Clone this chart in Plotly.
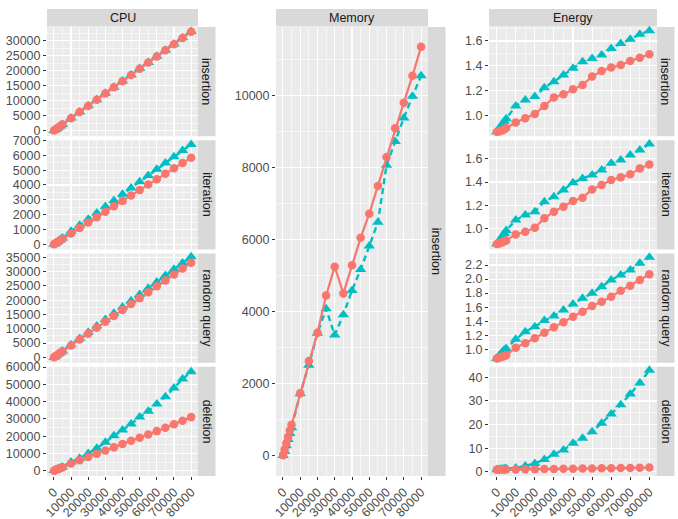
import plotly.graph_objects as go

# ---------------- data ----------------
x_sizes = [100, 1000, 2000, 3000, 4000, 5000, 10000, 15000, 20000, 25000, 30000,
           35000, 40000, 45000, 50000, 55000, 60000, 65000, 70000, 75000, 80000]

cpu_insertion_a = [40, 420, 830, 1240, 1650, 2060, 4150, 6200, 8250, 10300, 12400,
                   14450, 16500, 18550, 20650, 22700, 24750, 26800, 28850, 30900, 33000]
cpu_insertion_b = [45, 430, 850, 1270, 1680, 2100, 4200, 6250, 8300, 10350, 12450,
                   14500, 16550, 18600, 20700, 22750, 24800, 26850, 28900, 30950, 33050]

cpu_iteration_a = [8, 75, 150, 220, 295, 370, 740, 1100, 1470, 1830, 2200,
                   2570, 2930, 3300, 3660, 4030, 4390, 4760, 5120, 5480, 5840]
cpu_iteration_b = [9, 90, 180, 265, 350, 440, 880, 1290, 1700, 2120, 2560,
                   2960, 3380, 3800, 4220, 4640, 5060, 5480, 5900, 6320, 6730]

cpu_random_a = [40, 415, 830, 1240, 1660, 2070, 4140, 6210, 8280, 10350, 12420,
                14490, 16560, 18630, 20700, 22770, 24840, 26910, 28980, 31050, 33100]
cpu_random_b = [45, 440, 880, 1320, 1760, 2200, 4400, 6600, 8800, 11000, 13200,
                15400, 17600, 19800, 22000, 24200, 26400, 28600, 30800, 33000, 35200]

cpu_deletion_a = [40, 400, 800, 1200, 1600, 2000, 4100, 6000, 7900, 9800, 11700,
                  13500, 15400, 17300, 19100, 21000, 22900, 24900, 26900, 28900, 31000]
cpu_deletion_b = [45, 420, 850, 1300, 1750, 2200, 5000, 7150, 10000, 12950, 16400,
                  20250, 23550, 27000, 31000, 34400, 38600, 42800, 47900, 53000, 57300]

mem_insertion_a = [15, 170, 340, 515, 700, 860, 1737, 2632, 3418, 4450, 5246,
                   4507, 5290, 6050, 6720, 7490, 8290, 9090, 9800, 10545, 11350]
mem_insertion_b = [10, 120, 280, 450, 620, 780, 1720, 2513, 3400, 4083, 3352,
                   3917, 4590, 5170, 5820, 6480, 8065, 8725, 9375, 9975, 10545]

en_insertion_a = [0.87, 0.872, 0.876, 0.882, 0.89, 0.90, 0.944, 0.979, 1.013, 1.078, 1.145,
                  1.172, 1.212, 1.247, 1.314, 1.359, 1.386, 1.407, 1.439, 1.466, 1.493]
en_insertion_b = [0.87, 0.89, 0.91, 0.93, 0.955, 0.975, 1.078, 1.126, 1.153, 1.225, 1.273,
                  1.327, 1.38, 1.434, 1.46, 1.488, 1.54, 1.58, 1.613, 1.654, 1.683]

en_iteration_a = [0.87, 0.873, 0.878, 0.885, 0.893, 0.90, 0.951, 0.974, 1.009, 1.089, 1.146,
                  1.189, 1.237, 1.266, 1.337, 1.374, 1.417, 1.44, 1.466, 1.517, 1.551]
en_iteration_b = [0.87, 0.89, 0.91, 0.935, 0.96, 0.985, 1.074, 1.117, 1.146, 1.231, 1.274,
                  1.331, 1.394, 1.431, 1.46, 1.503, 1.56, 1.589, 1.631, 1.674, 1.726]

en_random_a = [0.87, 0.875, 0.885, 0.895, 0.905, 0.915, 1.023, 1.085, 1.156, 1.237, 1.313,
               1.384, 1.464, 1.536, 1.616, 1.678, 1.749, 1.835, 1.906, 1.987, 2.067]
en_random_b = [0.87, 0.9, 0.93, 0.96, 0.99, 1.01, 1.142, 1.251, 1.322, 1.408, 1.474,
               1.559, 1.645, 1.725, 1.797, 1.892, 1.987, 2.058, 2.129, 2.224, 2.309]

en_deletion_a = [0.9, 0.9, 0.92, 0.93, 0.95, 0.96, 1.0, 1.05, 1.1, 1.15, 1.2,
                 1.25, 1.3, 1.35, 1.4, 1.45, 1.5, 1.55, 1.6, 1.7, 1.8]
en_deletion_b = [0.9, 1.0, 1.1, 1.2, 1.3, 1.4, 1.6, 2.4, 3.5, 5.2, 7.4,
                 9.2, 12.1, 14.2, 17.0, 20.6, 24.5, 28.4, 33.0, 37.6, 43.0]

col_labels = ["CPU", "Memory", "Energy"]
row_labels = ["insertion", "iteration", "random query", "deletion"]
x_ticks = [0, 10000, 20000, 30000, 40000, 50000, 60000, 70000, 80000]

# ---------------- layout geometry (pixels) ----------------
W, H = 678, 519
RED = "#F8766D"
CYAN = "#00BFC4"
FONT = "Liberation Sans, Arial, sans-serif"

def px_x(a, b):
    return [a / W, b / W]

def px_y(top, bottom):
    return [1 - bottom / H, 1 - top / H]

rows_px = [(27, 136.25), (140.25, 249.5), (253.5, 362.75), (366.75, 476)]
cols_px = {"CPU": (47, 198), "Memory": (276, 428), "Energy": (489, 657)}
strip_w = 17.5
top_strip = (9, 26.5)

panels = [
    # col, row index (None = full height), a, b, yrange, dtick, minor, fmt
    ("CPU", 0, cpu_insertion_a, cpu_insertion_b, [-1850, 34570], 5000, 2500, "d"),
    ("CPU", 1, cpu_iteration_a, cpu_iteration_b, [-340, 7010], 1000, 500, "d"),
    ("CPU", 2, cpu_random_a, cpu_random_b, [-1900, 36330], 5000, 2500, "d"),
    ("CPU", 3, cpu_deletion_a, cpu_deletion_b, [-3070, 60150], 10000, 5000, "d"),
    ("Memory", None, mem_insertion_a, mem_insertion_b, [-560, 11900], 2000, 1000, "d"),
    ("Energy", 0, en_insertion_a, en_insertion_b, [0.834, 1.7125], 0.2, 0.1, ".1f"),
    ("Energy", 1, en_iteration_a, en_iteration_b, [0.822, 1.758], 0.2, 0.1, ".1f"),
    ("Energy", 2, en_random_a, en_random_b, [0.808, 2.364], 0.2, 0.1, ".1f"),
    ("Energy", 3, en_deletion_a, en_deletion_b, [-1.8, 44.5], 10, 5, "d"),
]

fig = go.Figure()
layout = {}
shapes = []
annotations = []

tickfont = dict(family=FONT, size=12.5, color="#4D4D4D")
stripfont = dict(family=FONT, size=12.5, color="#1A1A1A")

for i, (col, r, a, b, yr, dt, mn, fmt) in enumerate(panels):
    n = i + 1
    xs = "" if n == 1 else str(n)
    xa, ya = "x" + xs, "y" + xs
    if r is None:
        top, bottom = rows_px[0][0], rows_px[-1][1]
    else:
        top, bottom = rows_px[r]
    left, right = cols_px[col]
    is_bottom = (r is None) or (r == 3)

    fig.add_trace(go.Scatter(
        x=x_sizes, y=b, mode="lines+markers", xaxis=xa, yaxis=ya,
        line=dict(color=CYAN, width=2.4, dash="6px,4px"),
        marker=dict(symbol="triangle-up", size=10, color=CYAN),
        showlegend=False, hoverinfo="skip", cliponaxis=False))
    fig.add_trace(go.Scatter(
        x=x_sizes, y=a, mode="lines+markers", xaxis=xa, yaxis=ya,
        line=dict(color=RED, width=2.2),
        marker=dict(symbol="circle", size=8.5, color=RED),
        showlegend=False, hoverinfo="skip", cliponaxis=False))

    layout["xaxis" + xs] = dict(
        domain=px_x(left, right), anchor=ya, range=[-4000, 84000],
        tickmode="array", tickvals=x_ticks, ticktext=[str(v) for v in x_ticks],
        showticklabels=is_bottom, ticks="outside" if is_bottom else "",
        ticklen=3, tickwidth=1, tickcolor="#333333", tickangle=-45,
        tickfont=tickfont, showgrid=True, gridcolor="white", gridwidth=1.1,
        zeroline=False, showline=False, automargin=False, fixedrange=True,
        minor=dict(tick0=0, dtick=5000, showgrid=True, gridcolor="white",
                   gridwidth=0.55, ticks=""))
    layout["yaxis" + xs] = dict(
        domain=px_y(top, bottom), anchor=xa, range=yr,
        tickmode="linear", tick0=0, dtick=dt, tickformat=fmt,
        ticks="outside", ticklen=3, tickwidth=1, tickcolor="#333333",
        tickfont=tickfont, showgrid=True, gridcolor="white", gridwidth=1.1,
        zeroline=False, showline=False, automargin=False, fixedrange=True,
        minor=dict(tick0=0, dtick=mn, showgrid=True, gridcolor="white",
                   gridwidth=0.55, ticks=""))

    # right strip
    shapes.append(dict(type="rect", xref="paper", yref="paper",
                       x0=right / W, x1=(right + strip_w) / W,
                       y0=1 - bottom / H, y1=1 - top / H,
                       fillcolor="#D9D9D9", line=dict(width=0), layer="below"))
    label = row_labels[0] if r is None else row_labels[r]
    annotations.append(dict(text=label, xref="paper", yref="paper",
                            x=(right + strip_w / 2) / W, y=1 - (top + bottom) / 2 / H,
                            textangle=90, showarrow=False, font=stripfont,
                            xanchor="center", yanchor="middle"))

# top strips
for col in col_labels:
    left, right = cols_px[col]
    shapes.append(dict(type="rect", xref="paper", yref="paper",
                       x0=left / W, x1=right / W,
                       y0=1 - top_strip[1] / H, y1=1 - top_strip[0] / H,
                       fillcolor="#D9D9D9", line=dict(width=0), layer="below"))
    annotations.append(dict(text=col, xref="paper", yref="paper",
                            x=(left + right) / 2 / W,
                            y=1 - (top_strip[0] + top_strip[1]) / 2 / H,
                            showarrow=False, font=stripfont,
                            xanchor="center", yanchor="middle"))

fig.update_layout(
    width=W, height=H, margin=dict(l=0, r=0, t=0, b=0),
    paper_bgcolor="white", plot_bgcolor="#EBEBEB",
    showlegend=False, hovermode=False,
    font=dict(family=FONT),
    shapes=shapes, annotations=annotations,
    **layout)

fig.write_html("out.html",
               config={"displayModeBar": False, "staticPlot": True},
               post_script="document.body.style.margin='0';document.body.style.overflow='hidden';")
